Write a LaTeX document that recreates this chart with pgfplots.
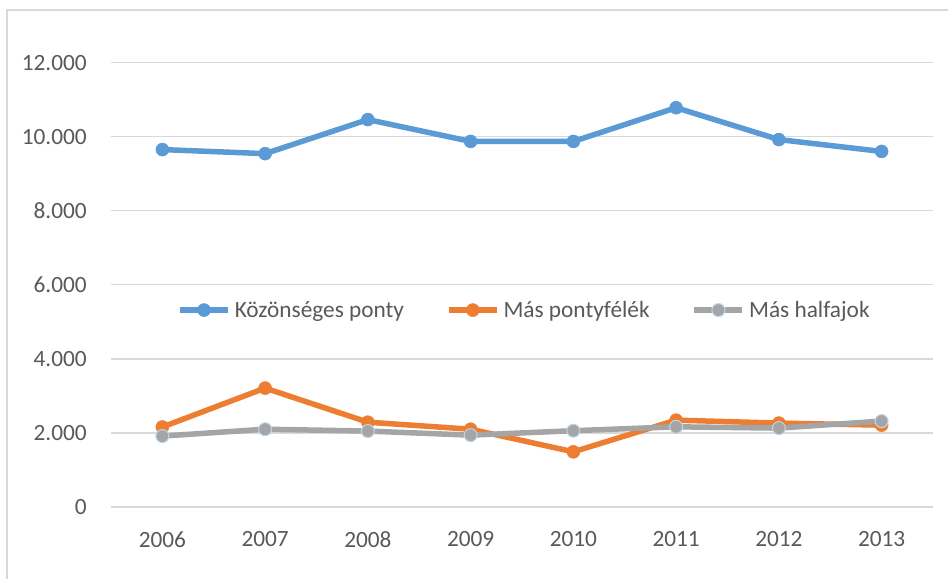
\documentclass[border=0pt]{standalone}
\usepackage{pgfplots}
\pgfplotsset{compat=1.18}
\usepackage{fontspec}
\setmainfont{Carlito}
\definecolor{cblue}{HTML}{5B9BD5}
\definecolor{corange}{HTML}{ED7D31}
\definecolor{cgray}{HTML}{A5A5A5}
\definecolor{cgrid}{HTML}{D9D9D9}
\definecolor{ctext}{HTML}{595959}
\definecolor{cedge}{HTML}{BDD7EE}
\begin{document}
\begin{tikzpicture}
\useasboundingbox (-111bp,-72bp) rectangle (837bp,507bp);
\draw[cgrid, line width=2bp] (-104bp,-80bp) -- (-104bp,497bp) -- (845bp,497bp);
\begin{axis}[
  at={(0,0)}, anchor=south west,
  scale only axis,
  width=822bp, height=481.5bp,
  xmin=-0.5, xmax=7.5,
  ymin=0, ymax=13000,
  xtick={0,...,7},
  xticklabels={2006,2007,2008,2009,2010,2011,2012,2013},
  ytick={0,2000,4000,6000,8000,10000,12000},
  ymajorgrids,
  grid style={cgrid, line width=1.4bp},
  axis line style={draw=none},
  major tick length=0pt,
  clip=false,
  font=\fontsize{23.3bp}{28bp}\selectfont,
  tick label style={text=ctext, font=\fontsize{23.3bp}{28bp}\selectfont},
  yticklabel style={anchor=east, inner sep=0pt, xshift=-24bp},
  xticklabel style={anchor=north, inner sep=0pt, yshift=-24.5bp},
  /pgf/number format/.cd, 1000 sep={.}, assume math mode=true,
  /pgfplots/.cd,
  scaled y ticks=false,
  legend columns=3,
  legend style={draw=none, fill=none, at={(0.503,0.409)}, anchor=center,
    font=\fontsize{23.3bp}{28bp}\selectfont, text=ctext,
    /tikz/every even column/.append style={column sep=40bp},
    /tikz/every odd column/.append style={column sep=2bp},
    inner sep=0pt},
  legend image code/.code={%
    \draw[#1, mark repeat=2, mark phase=2] plot coordinates {(0bp,0bp) (24bp,0bp) (48bp,0bp)};},
]
\addplot[cblue, line width=5.5bp, mark=*, mark size=6.5bp, mark options={fill=cblue, draw=cblue, line width=0.5bp}]
 coordinates {(0,9650) (1,9540) (2,10460) (3,9870) (4,9870) (5,10780) (6,9920) (7,9600)};
\addlegendentry{Közönséges ponty}
\addplot[corange, line width=5.5bp, mark=*, mark size=6.5bp, mark options={fill=corange, draw=corange, line width=0.5bp}]
 coordinates {(0,2160) (1,3210) (2,2290) (3,2100) (4,1490) (5,2345) (6,2265) (7,2210)};
\addlegendentry{Más pontyfélék}
\addplot[cgray, line width=5.5bp, mark=*, mark size=6.5bp, mark options={fill=cgray, draw=cedge, line width=1bp}]
 coordinates {(0,1915) (1,2100) (2,2050) (3,1940) (4,2060) (5,2165) (6,2130) (7,2320)};
\addlegendentry{Más halfajok}
\end{axis}
\end{tikzpicture}
\end{document}
